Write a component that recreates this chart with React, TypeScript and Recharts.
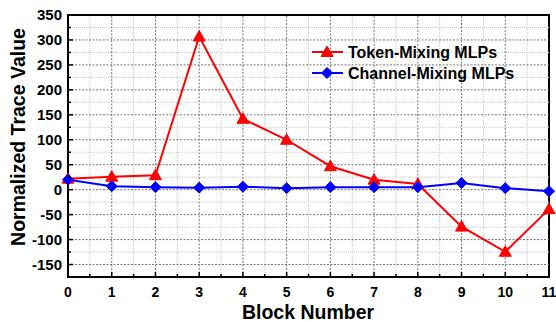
import React from 'react';
import { LineChart, Line, XAxis, YAxis, ReferenceLine, ReferenceArea } from 'recharts';

const blocks = [0, 1, 2, 3, 4, 5, 6, 7, 8, 9, 10, 11];
const tokenMixing = [22, 26, 29, 307, 142, 100, 47, 20, 11.5, -74, -124.5, -39];
const channelMixing = [20, 7, 5, 4, 6, 3, 5, 5, 5, 13.5, 3, -3];

const xTicks = [0, 0.5, 1, 1.5, 2, 2.5, 3, 3.5, 4, 4.5, 5, 5.5, 6, 6.5, 7, 7.5, 8, 8.5, 9, 9.5, 10, 10.5, 11];
const yTicks = [-175, -150, -125, -100, -75, -50, -25, 0, 25, 50, 75, 100, 125, 150, 175, 200, 225, 250, 275, 300, 325, 350];
const majorX = [1, 2, 3, 4, 5, 6, 7, 8, 9, 10];
const minorX = [0.5, 1.5, 2.5, 3.5, 4.5, 5.5, 6.5, 7.5, 8.5, 9.5, 10.5];
const majorY = [-150, -100, -50, 0, 50, 100, 150, 200, 250, 300];
const minorY = [-125, -75, -25, 25, 75, 125, 175, 225, 275, 325];

const series = [
  { key: 'token', name: 'Token-Mixing MLPs', color: '#ff0000', shape: 'triangle', values: tokenMixing },
  { key: 'channel', name: 'Channel-Mixing MLPs', color: '#0000ff', shape: 'diamond', values: channelMixing },
];

const data = blocks.map((b, i) => ({ block: b, token: tokenMixing[i], channel: channelMixing[i] }));

const FONT = '"Liberation Sans", Arial, sans-serif';

const Marker = ({ cx, cy, shape, color }: any) => {
  if (cx == null || cy == null) return null;
  if (shape === 'triangle') {
    const s = 6;
    return <polygon points={`${cx},${cy - s} ${cx - s},${cy + s * 0.75} ${cx + s},${cy + s * 0.75}`} fill={color} stroke={color} />;
  }
  const s = 5.5;
  return <polygon points={`${cx},${cy - s} ${cx + s},${cy} ${cx},${cy + s} ${cx - s},${cy}`} fill={color} stroke={color} />;
};

const XTick = ({ x, y, payload }: any) => {
  const v = payload.value;
  const major = Number.isInteger(v);
  return (
    <g>
      <line x1={x} x2={x} y1={y} y2={y - (major ? 5 : 3)} stroke="#000" strokeWidth={1.5} />
      {major && (
        <text x={x} y={y + 20} textAnchor="middle" fontFamily={FONT} fontWeight="bold" fontSize={14} fill="#000">
          {v}
        </text>
      )}
    </g>
  );
};

const YTick = ({ x, y, payload }: any) => {
  const v = payload.value;
  const major = v % 50 === 0;
  return (
    <g>
      <line x1={x} x2={x + (major ? 5 : 3)} y1={y} y2={y} stroke="#000" strokeWidth={1.5} />
      {major && (
        <text x={x - 6} y={y} dy="0.36em" textAnchor="end" fontFamily={FONT} fontWeight="bold" fontSize={15} fill="#000">
          {v}
        </text>
      )}
    </g>
  );
};

export default function App() {
  return (
    <div style={{ position: 'absolute', left: 0, top: 0, width: 556, height: 322, background: '#fff' }}>
      <LineChart width={556} height={322} data={data} margin={{ top: 15, right: 7, bottom: 0, left: 0 }}>
        <XAxis
          dataKey="block"
          type="number"
          domain={[0, 11]}
          ticks={xTicks}
          interval={0}
          tickSize={0}
          tickMargin={0}
          axisLine={false}
          tickLine={false}
          height={45}
          tick={<XTick />}
        />
        <YAxis
          type="number"
          domain={[-175, 350]}
          ticks={yTicks}
          interval={0}
          tickSize={0}
          tickMargin={0}
          axisLine={false}
          tickLine={false}
          width={68}
          tick={<YTick />}
        />
        {minorY.map((v) => (
          <ReferenceLine key={'my' + v} y={v} stroke="#c8c8c8" strokeDasharray="1 1" strokeWidth={1} />
        ))}
        {minorX.map((v) => (
          <ReferenceLine key={'mx' + v} x={v} stroke="#c8c8c8" strokeDasharray="1 1" strokeWidth={1} />
        ))}
        {majorY.map((v) => (
          <ReferenceLine key={'My' + v} y={v} stroke="#777" strokeDasharray="2 1.5" strokeWidth={1} />
        ))}
        {majorX.map((v) => (
          <ReferenceLine key={'Mx' + v} x={v} stroke="#777" strokeDasharray="2 1.5" strokeWidth={1} />
        ))}
        <ReferenceArea x1={0} x2={11} y1={-175} y2={350} fill="none" stroke="#000" strokeWidth={2} />
        {series.map((s) => (
          <Line
            key={s.key}
            dataKey={s.key}
            name={s.name}
            stroke={s.color}
            strokeWidth={2}
            isAnimationActive={false}
            dot={(p: any) => <Marker key={s.key + p.index} cx={p.cx} cy={p.cy} shape={s.shape} color={s.color} />}
            activeDot={false}
          />
        ))}
      </LineChart>
      <svg width={556} height={322} style={{ position: 'absolute', left: 0, top: 0, pointerEvents: 'none' }}>
        <text
          x={18}
          y={137}
          transform="rotate(-90, 18, 137)"
          textAnchor="middle"
          dy="0.36em"
          fontFamily={FONT}
          fontWeight="bold"
          fontSize={19.5}
          fill="#000"
        >
          Normalized Trace Value
        </text>
        <text x={308} y={319} textAnchor="middle" fontFamily={FONT} fontWeight="bold" fontSize={19.5} fill="#000">
          Block Number
        </text>
        {series.map((s, i) => {
          const cy = 52 + i * 21;
          return (
            <g key={s.key}>
              <line x1={312} x2={343} y1={cy} y2={cy} stroke={s.color} strokeWidth={2} />
              <Marker cx={327} cy={cy} shape={s.shape} color={s.color} />
              <text x={348} y={cy} dy="0.36em" fontFamily={FONT} fontWeight="bold" fontSize={16} fill="#000">
                {s.name}
              </text>
            </g>
          );
        })}
      </svg>
    </div>
  );
}
